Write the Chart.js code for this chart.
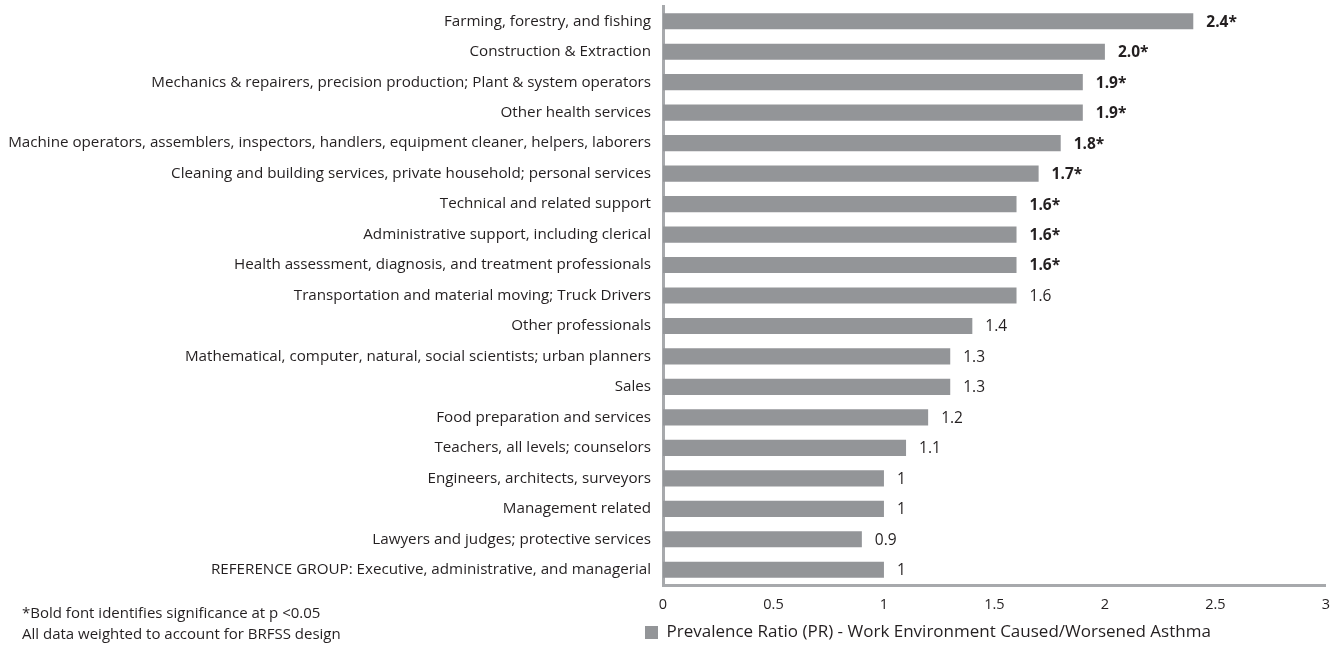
<!DOCTYPE html>
<html>
<head>
<meta charset="utf-8">
<title>Prevalence Ratio - Work Environment Caused/Worsened Asthma</title>
<script src="https://cdn.jsdelivr.net/npm/chart.js@4.4.1/dist/chart.umd.min.js"></script>
<style>
  html, body { margin: 0; padding: 0; background: #ffffff; }
  #wrap { position: relative; width: 1341px; height: 645px; }
  #chart { display: block; }
  .note { position: absolute; left: 22px; font: 15px "Open Sans", sans-serif; color: #231f20; white-space: nowrap; }
</style>
</head>
<body>
<div id="wrap">
  <canvas id="chart" width="1341" height="645"></canvas>
  <div class="note" style="top:602px">*Bold font identifies significance at p &lt;0.05</div>
  <div class="note" style="top:623px">All data weighted to account for BRFSS design</div>
</div>
<script>
// ========================================
// Data
// ========================================
const categories = [
  'Farming, forestry, and fishing',
  'Construction & Extraction',
  'Mechanics & repairers, precision production; Plant & system operators',
  'Other health services',
  'Machine operators, assemblers, inspectors, handlers, equipment cleaner, helpers, laborers',
  'Cleaning and building services, private household; personal services',
  'Technical and related support',
  'Administrative support, including clerical',
  'Health assessment, diagnosis, and treatment professionals',
  'Transportation and material moving; Truck Drivers',
  'Other professionals',
  'Mathematical, computer, natural, social scientists; urban planners',
  'Sales',
  'Food preparation and services',
  'Teachers, all levels; counselors',
  'Engineers, architects, surveyors',
  'Management related',
  'Lawyers and judges; protective services',
  'REFERENCE GROUP: Executive, administrative, and managerial'
];

const prValues = [2.4, 2.0, 1.9, 1.9, 1.8, 1.7, 1.6, 1.6, 1.6, 1.6, 1.4, 1.3, 1.3, 1.2, 1.1, 1, 1, 0.9, 1];

const valueLabels = ['2.4*', '2.0*', '1.9*', '1.9*', '1.8*', '1.7*', '1.6*', '1.6*', '1.6*', '1.6',
  '1.4', '1.3', '1.3', '1.2', '1.1', '1', '1', '0.9', '1'];

// p < 0.05 -> bold label
const significant = [true, true, true, true, true, true, true, true, true, false,
  false, false, false, false, false, false, false, false, false];

const seriesName = 'Prevalence Ratio (PR) - Work Environment Caused/Worsened Asthma';
const xMin = 0;
const xMax = 3;
const xStep = 0.5;

// ========================================
// Styles
// ========================================
const colors = {
  bar: '#939598',
  axis: '#a7a9ac',
  text: '#231f20'
};
const fontFamily = '"Open Sans", sans-serif';

// value labels to the right of each bar
const valueLabelPlugin = {
  id: 'valueLabels',
  afterDatasetsDraw(chart) {
    const ctx = chart.ctx;
    const meta = chart.getDatasetMeta(0);
    ctx.save();
    ctx.fillStyle = colors.text;
    ctx.textBaseline = 'middle';
    ctx.textAlign = 'left';
    meta.data.forEach((bar, i) => {
      ctx.font = (significant[i] ? 'bold ' : '') + '15.5px ' + fontFamily;
      ctx.fillText(valueLabels[i], bar.x + 13, bar.y + 1);
    });
    ctx.restore();
  }
};

// legend sits a little left of the plot area and slightly lower
const legendShift = {
  id: 'legendShift',
  afterLayout(chart) {
    const legend = chart.legend;
    if (legend) {
      legend.left -= 22;
      legend.right -= 22;
      legend.top += 6;
      legend.bottom += 6;
    }
  }
};

const chart = new Chart(document.getElementById('chart'), {
  type: 'bar',
  data: {
    labels: categories,
    datasets: [{
      label: seriesName,
      data: prValues,
      backgroundColor: colors.bar,
      borderWidth: 0,
      categoryPercentage: 1,
      barPercentage: 0.53
    }]
  },
  options: {
    indexAxis: 'y',
    responsive: false,
    animation: false,
    layout: {
      padding: { top: 6, right: 14, bottom: 0, left: 0 }
    },
    plugins: {
      legend: {
        display: true,
        position: 'bottom',
        align: 'start',
        fullSize: false,
        labels: {
          color: colors.text,
          boxWidth: 13,
          boxHeight: 13,
          padding: 4,
          font: { family: fontFamily, size: 17 }
        }
      },
      tooltip: { enabled: false }
    },
    scales: {
      x: {
        min: xMin,
        max: xMax,
        afterFit(scale) {
          scale.height = 29;
        },
        ticks: {
          stepSize: xStep,
          color: colors.text,
          padding: 11,
          font: { family: fontFamily, size: 14.5 },
          callback: (value) => String(value)
        },
        grid: { display: false, drawTicks: false },
        border: { color: colors.axis, width: 3 }
      },
      y: {
        afterFit(scale) {
          scale.width = 663;
          scale.paddingTop = 0;
          scale.paddingBottom = 0;
        },
        ticks: {
          color: colors.text,
          padding: 12,
          autoSkip: false,
          font: { family: fontFamily, size: 15.2 }
        },
        grid: { display: false, drawTicks: false },
        border: { color: colors.axis, width: 3 }
      }
    }
  },
  plugins: [valueLabelPlugin, legendShift]
});
</script>
</body>
</html>
